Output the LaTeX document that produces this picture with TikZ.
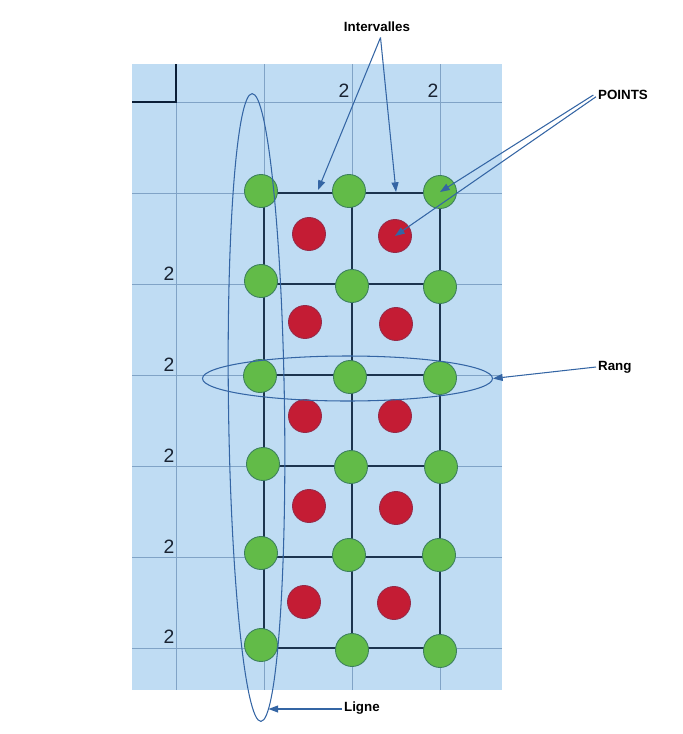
\documentclass[tikz,border=0pt]{standalone}
\usepackage{fontspec}
\setmainfont{Liberation Sans}
\usetikzlibrary{arrows.meta,shapes.geometric}
\definecolor{sheetBlue}{RGB}{191,220,243}
\definecolor{gridLight}{RGB}{128,163,198}
\definecolor{frameInk}{RGB}{28,52,78}
\definecolor{cornerInk}{RGB}{10,30,55}
\definecolor{numInk}{RGB}{25,35,50}
\definecolor{ptGreen}{RGB}{98,187,72}
\definecolor{ptGreenLine}{RGB}{60,128,92}
\definecolor{ptRed}{RGB}{196,28,52}
\definecolor{ptRedLine}{RGB}{150,42,72}
\definecolor{annBlue}{RGB}{52,101,164}

\begin{document}
\begin{tikzpicture}[x=0.02cm,y=-0.02cm,
    ptgreen/.style={circle,draw=ptGreenLine,fill=ptGreen,minimum size=6.6mm,
                    inner sep=0pt,line width=0.5pt},
    ptred/.style={circle,draw=ptRedLine,fill=ptRed,minimum size=6.6mm,
                  inner sep=0pt,line width=0.5pt},
    num/.style={font=\fontsize{11}{13}\selectfont,text=numInk,inner sep=0pt},
    lbl/.style={font=\fontsize{7.6}{9}\selectfont\bfseries,inner sep=1pt},
    ann/.style={draw=annBlue,line width=0.6pt},
    annarrow/.style={ann,-{Triangle[length=5.5pt,width=4pt]}}]

  \useasboundingbox (0,0) rectangle (683,734);

  % sheet and light grid
  \fill[sheetBlue] (132,64) rectangle (502,690);
  \draw[gridLight,line width=0.5pt] (176,102) -- (176,690);
  \foreach \x in {264,352,440}
    \draw[gridLight,line width=0.5pt] (\x,64) -- (\x,690);
  \foreach \y in {102,193,...,648}
    \draw[gridLight,line width=0.5pt] (132,\y) -- (502,\y);

  % corner mark
  \draw[cornerInk,line width=1.2pt] (176,64) -- (176,102) -- (132,102);

  % dark frame of the cells
  \foreach \x in {264,352,440}
    \draw[frameInk,line width=1.1pt] (\x,193) -- (\x,648);
  \foreach \y in {193,284,...,648}
    \draw[frameInk,line width=1.1pt] (264,\y) -- (440,\y);

  % green points on the crossings
  \foreach \n/\x/\y in {g11/261/191,g12/349/191,g13/440/192,
                        g21/261/281,g22/352/286,g23/440/287,
                        g31/260/376,g32/350/377,g33/440/378,
                        g41/263/464,g42/351/467,g43/441/467,
                        g51/261/553,g52/349/555,g53/439/555,
                        g61/261/645,g62/352/650,g63/440/651}
    \node[ptgreen] (\n) at (\x,\y) {};

  % red points inside the cells
  \foreach \n/\x/\y in {r11/309/234,r12/395/236,
                        r21/305/322,r22/396/324,
                        r31/305/416,r32/395/416,
                        r41/309/506,r42/396/508,
                        r51/304/602,r52/394/603}
    \node[ptred] (\n) at (\x,\y) {};

  % the 2s along the edges
  \foreach \x in {344,433}
    \node[num] (top\x) at (\x,91) {2};
  \foreach \y in {274,365,456,547,637}
    \node[num] (left\y) at (169,\y) {2};

  % one column and one row circled
  \node[ellipse,ann,inner sep=0pt,minimum width=11.2mm,minimum height=125.6mm,
        rotate=0.8] (ligneEll) at (256.5,407.5) {};
  \node[ellipse,ann,inner sep=0pt,minimum width=58mm,minimum height=9mm]
    (rangEll) at (347.5,378.5) {};

  % labels
  \node[lbl] (interv) at (377,27) {Intervalles};
  \node[lbl,anchor=west] (points) at (596,95) {POINTS};
  \node[lbl,anchor=west] (rang) at (596,367) {Rang};
  \node[lbl,anchor=west] (ligne) at (342,708) {Ligne};

  \coordinate (intA) at (318,190);
  \coordinate (intB) at (396,192);
  \coordinate (ligneTip) at (268.5,709);

  % arrows
  \draw[annarrow] ([xshift=2pt,yshift=-2pt]interv.south) -- (intA);
  \draw[annarrow] ([xshift=2pt,yshift=-2pt]interv.south) -- (intB);
  \draw[annarrow] ([xshift=-1.5pt]points.west) -- (g13.center);
  \draw[annarrow] ([yshift=-1pt]points.west) -- (r12.center);
  \draw[annarrow] (rang.west) -- (rangEll.east);
  \draw[annarrow] (ligne.west |- ligneTip) -- (ligneTip);
\end{tikzpicture}
\end{document}
